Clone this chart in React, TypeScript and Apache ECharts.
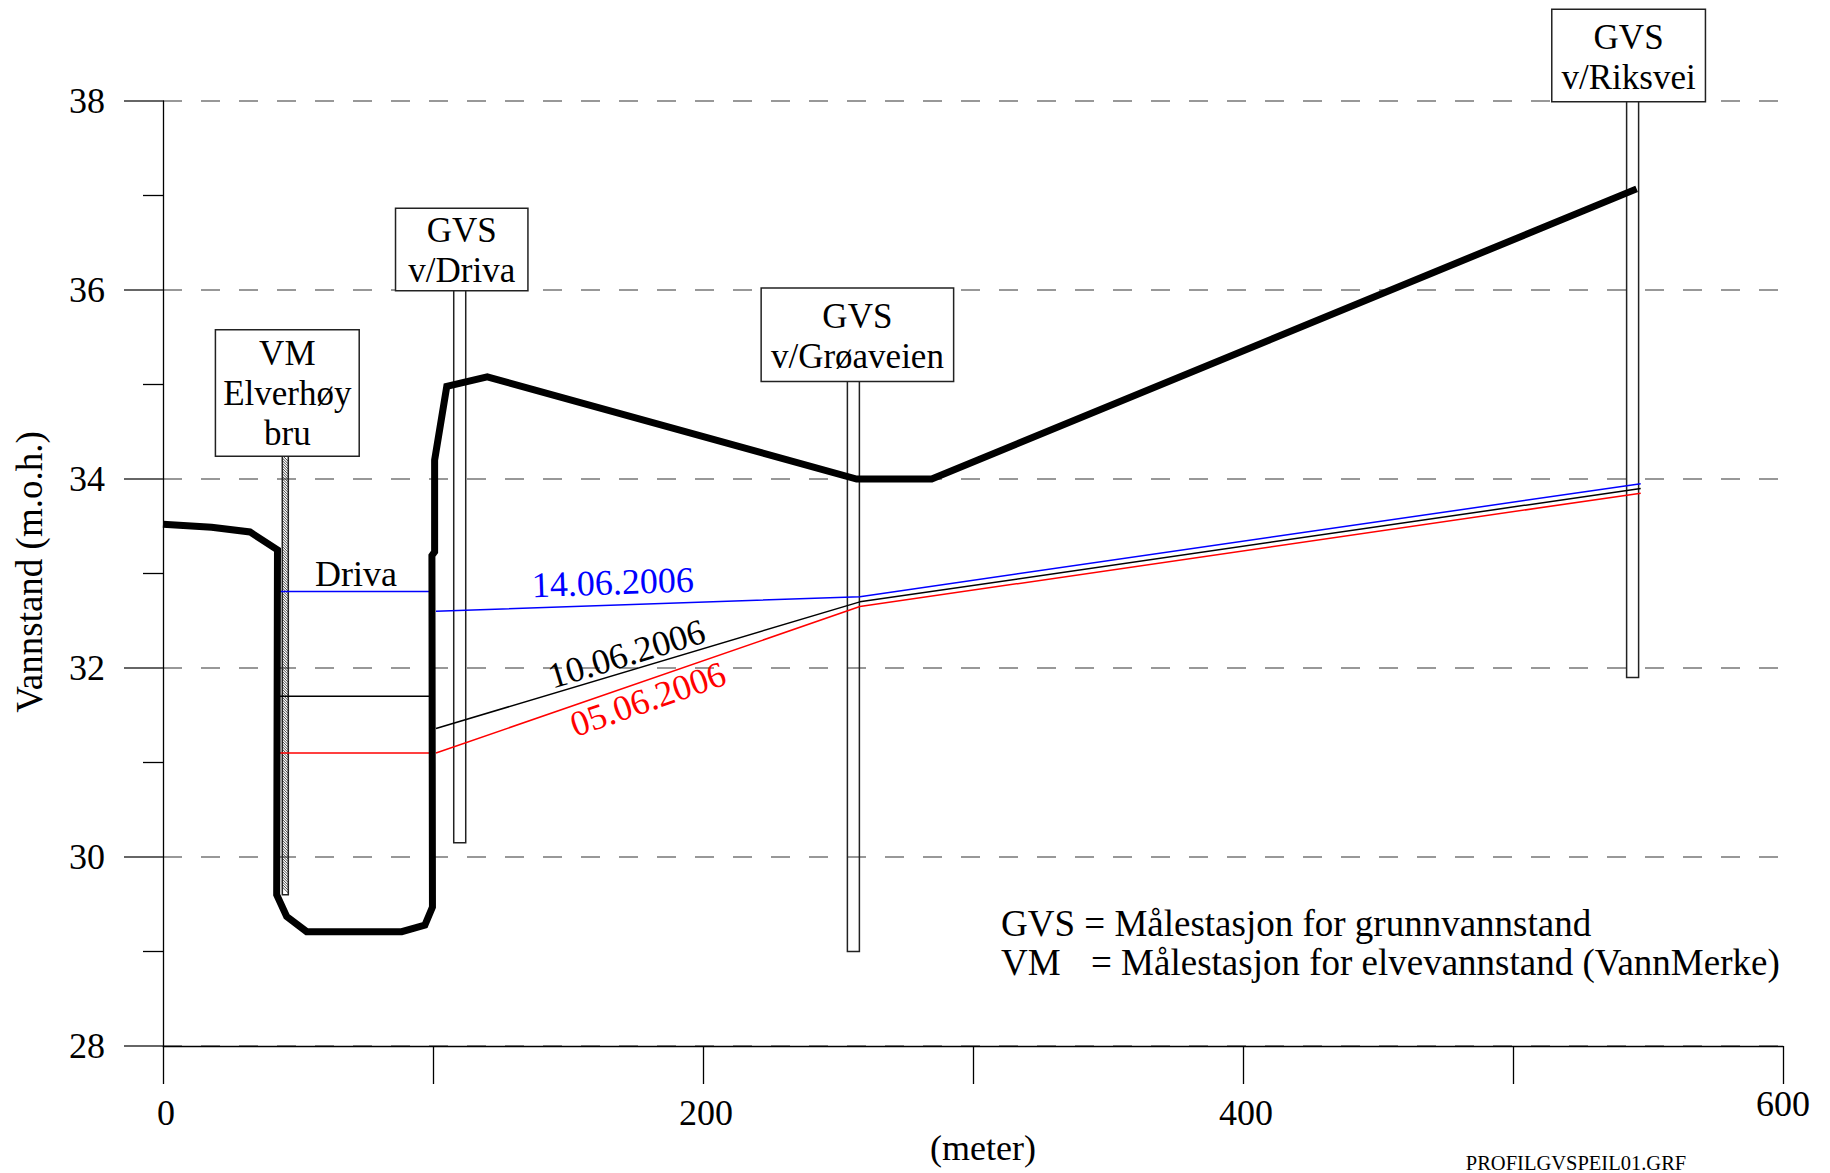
import React, { useEffect, useRef } from "react";
import * as echarts from "echarts";

// Distance along the profile (m) and elevation (m.o.h.) of the terrain surface
const groundX = [0, 18, 32.2, 42.4, 42.1, 45.8, 53.2, 88.4, 97, 99.8, 99.6, 100.6, 100.6, 105.1, 120.1, 256.9, 284.7, 545.8];
const groundY = [33.52, 33.49, 33.44, 33.25, 29.6, 29.37, 29.21, 29.21, 29.28, 29.47, 33.19, 33.23, 34.2, 34.98, 35.08, 34.0, 34.0, 37.07];

// River level inside the channel (Driva) for each measuring date
const riverX = [42.1, 99.6];
const dates = ["14.06.2006", "10.06.2006", "05.06.2006"];
const riverLevel = [32.81, 31.7, 31.1];

// Groundwater table from the river bank to the stations
const gwX = [101.1, 258.1, 547.3];
const gwLevel14 = [32.6, 32.755, 33.95];
const gwLevel10 = [31.36, 32.7, 33.9];
const gwLevel05 = [31.1, 32.65, 33.85];
const dateColors = ["#0000ff", "#000000", "#ff0000"];

// Measuring stations: position, pipe bottom and pipe top
const stationNames = ["VM\nElverhøy\nbru", "GVS\nv/Driva", "GVS\nv/Grøaveien", "GVS\nv/Riksvei"];
const stationX = [45.3, 109.9, 255.7, 544.3];
const pipeBottom = [29.6, 30.15, 29.0, 31.9];
const pipeTop = [34.25, 36.0, 35.04, 38.0];

// Label box padding per station [top, horizontal, bottom] and horizontal nudge
const boxPad = [[3, 7, 2], [1, 12, 0], [8, 9, 4], [7, 9, 4]];
const boxShift = [2, 2, 4, -4];

// Axis ticks
const xLabelled = [0, 200, 400, 600];
const yMin = 28;
const yMax = 38;

// In-plot annotations (anchor in data units, rotation in degrees)
const annoText = ["Driva", dates[0], dates[1], dates[2]];
const annoX = [71.5, 166.6, 171.7, 179.6];
const annoY = [33.0, 32.906, 32.15, 31.67];
const annoRot = [0, 2, 16.8, 19.2];
const annoColor = ["#000000", dateColors[0], dateColors[1], dateColors[2]];

const FONT = "'Liberation Serif', 'Times New Roman', serif";

const zip = (xs: number[], ys: number[]) => xs.map((x, i) => [x, ys[i]]);

export default function App() {
  const ref = useRef<HTMLDivElement>(null);

  useEffect(() => {
    if (!ref.current) return;
    const chart = echarts.init(ref.current, null, { renderer: "svg" });

    const levelSeries: any[] = [];
    const gwSets = [gwLevel14, gwLevel10, gwLevel05];
    dates.forEach((d, i) => {
      levelSeries.push({
        name: d + " elv",
        type: "line",
        data: zip(riverX, [riverLevel[i], riverLevel[i]]),
        symbol: "none",
        lineStyle: { color: dateColors[i], width: 1.5 },
        z: 3,
      });
      levelSeries.push({
        name: d,
        type: "line",
        data: zip(gwX, gwSets[i]),
        symbol: "none",
        lineStyle: { color: dateColors[i], width: 1.5 },
        z: 3,
      });
    });

    const stationData = stationX.map((x, i) => [x, pipeBottom[i], pipeTop[i]]);
    const annoData = annoX.map((x, i) => [x, annoY[i]]);

    chart.setOption({
      animation: false,
      backgroundColor: "#ffffff",
      textStyle: { fontFamily: FONT },
      grid: { left: 163, top: 101, width: 1620, height: 945, containLabel: false },
      xAxis: {
        type: "value",
        min: 0,
        max: 600,
        interval: 100,
        axisLine: { show: true, onZero: false, lineStyle: { color: "#000", width: 1.3 } },
        axisTick: { show: true, inside: false, length: 38, lineStyle: { color: "#000", width: 1.3 } },
        axisLabel: {
          margin: 40,
          color: "#000",
          fontSize: 36,
          fontFamily: FONT,
          formatter: (v: number) =>
            xLabelled.includes(v) ? (v === 600 ? `{hi|${v}}` : `{lo|${v}}`) : "",
          rich: {
            lo: { fontSize: 36, fontFamily: FONT, color: "#000", padding: [9, 0, 0, 6] },
            hi: { fontSize: 36, fontFamily: FONT, color: "#000" },
          },
        },
        splitLine: { show: false },
      },
      yAxis: {
        type: "value",
        min: yMin,
        max: yMax,
        interval: 2,
        axisLine: { show: true, onZero: false, lineStyle: { color: "#000", width: 1.3 } },
        axisTick: { show: true, inside: false, length: 39, lineStyle: { color: "#333", width: 1.5 } },
        minorTick: { show: true, splitNumber: 2, length: 20, lineStyle: { color: "#000", width: 1.3 } },
        axisLabel: { margin: 58, color: "#000", fontSize: 36, fontFamily: FONT },
        splitLine: { show: true, lineStyle: { color: "#777", width: 1.5, type: [19, 19] } },
      },
      graphic: [
        {
          type: "text",
          x: 29,
          y: 572,
          rotation: Math.PI / 2,
          style: { text: "Vannstand (m.o.h.)", fill: "#000", fontSize: 37, fontFamily: FONT, align: "center", verticalAlign: "middle" },
        },
        {
          type: "text",
          x: 983,
          y: 1148,
          style: { text: "(meter)", fill: "#000", fontSize: 36, fontFamily: FONT, align: "center", verticalAlign: "middle" },
        },
        {
          type: "text",
          x: 1001,
          y: 923,
          style: { text: "GVS = Målestasjon for grunnvannstand", fill: "#000", fontSize: 37, fontFamily: FONT, align: "left", verticalAlign: "middle" },
        },
        {
          type: "text",
          x: 1001,
          y: 962,
          style: { text: "VM", fill: "#000", fontSize: 37, fontFamily: FONT, align: "left", verticalAlign: "middle" },
        },
        {
          type: "text",
          x: 1091,
          y: 962,
          style: { text: "= Målestasjon for elvevannstand (VannMerke)", fill: "#000", fontSize: 37, fontFamily: FONT, align: "left", verticalAlign: "middle" },
        },
        {
          type: "text",
          x: 1576,
          y: 1163,
          style: { text: "PROFILGVSPEIL01.GRF", fill: "#000", fontSize: 20.5, fontFamily: FONT, align: "center", verticalAlign: "middle" },
        },
      ],
      series: [
        {
          name: "stasjoner",
          type: "custom",
          z: 1,
          clip: false,
          data: stationData,
          renderItem: (params: any, api: any) => {
            const idx = params.dataIndex;
            const x = api.value(0);
            const top = api.coord([x, api.value(2)]);
            const bot = api.coord([x, api.value(1)]);
            const hatched = stationNames[idx].startsWith("VM");
            const w = hatched ? 6 : 12;
            const x0 = top[0] - w / 2;
            const children: any[] = [];
            if (hatched) {
              for (let yy = top[1]; yy < bot[1] - w; yy += 2.6) {
                children.push({
                  type: "line",
                  shape: { x1: x0, y1: yy, x2: x0 + w, y2: yy + w },
                  style: { stroke: "#333", lineWidth: 0.9 },
                });
              }
            }
            children.push({
              type: "rect",
              shape: { x: x0, y: top[1], width: w, height: bot[1] - top[1] },
              style: { fill: "none", stroke: "#222", lineWidth: 1.5 },
            });
            const pad = boxPad[idx];
            children.push({
              type: "text",
              x: top[0] + boxShift[idx],
              y: top[1],
              style: {
                text: stationNames[idx],
                fill: "#000",
                fontSize: 35,
                fontFamily: FONT,
                lineHeight: 40,
                align: "center",
                verticalAlign: "bottom",
                backgroundColor: "#ffffff",
                borderColor: "#222",
                borderWidth: 1.5,
                padding: [pad[0], pad[1], pad[2], pad[1]],
              },
            });
            return { type: "group", children };
          },
        },
        ...levelSeries,
        {
          name: "terreng",
          type: "line",
          data: zip(groundX, groundY),
          symbol: "none",
          z: 4,
          lineStyle: { color: "#000", width: 7, join: "miter" },
        },
        {
          name: "merking",
          type: "custom",
          z: 5,
          clip: false,
          data: annoData,
          renderItem: (params: any, api: any) => {
            const i = params.dataIndex;
            const p = api.coord([api.value(0), api.value(1)]);
            return {
              type: "text",
              x: p[0],
              y: p[1],
              rotation: (annoRot[i] * Math.PI) / 180,
              style: {
                text: annoText[i],
                fill: annoColor[i],
                fontSize: 36,
                fontFamily: FONT,
                align: "center",
                verticalAlign: "middle",
              },
            };
          },
        },
      ],
    });

    return () => chart.dispose();
  }, []);

  return (
    <div
      ref={ref}
      style={{ position: "fixed", left: 0, top: 0, width: 1830, height: 1173, background: "#fff" }}
    />
  );
}
